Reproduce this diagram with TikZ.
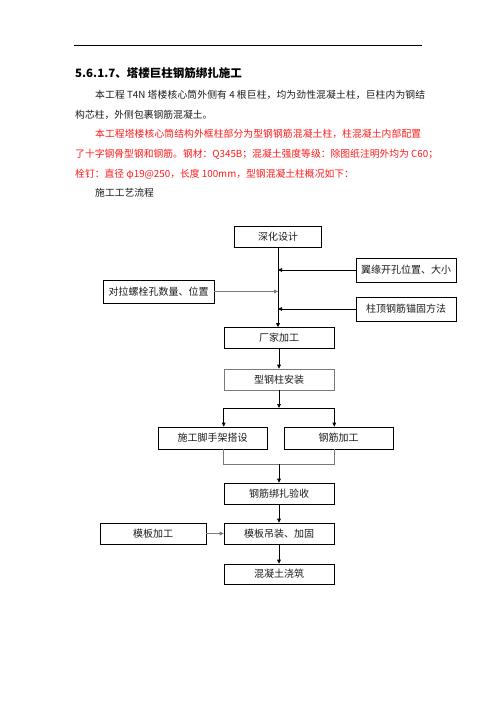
\documentclass[tikz,border=0pt]{standalone}
\usepackage{fontspec}
\usepackage{xcolor}
\usepackage{tikz}
\usetikzlibrary{arrows.meta, positioning, calc}
\newfontfamily\cjk{Noto Sans CJK SC}
\XeTeXlinebreaklocale "zh"
\XeTeXlinebreakskip=0pt plus 3pt
\definecolor{RedText}{HTML}{FF1A1A}
\definecolor{TextDark}{HTML}{1C1C1C}
\definecolor{BoxGray}{HTML}{7A7A7A}

\begin{document}
\begin{tikzpicture}[
    x=1pt, y=-1pt,
    headtext/.style={anchor=west, inner sep=0pt, font=\cjk\bfseries\fontsize{11.5}{14}\selectfont},
    bodytext/.style={anchor=west, inner sep=0pt, text=TextDark, font=\cjk\fontsize{9.8}{12}\selectfont},
    redtext/.style={bodytext, text=RedText},
    fullline/.style={text width=#1, align=justify, execute at begin node={\tolerance=9999 \parfillskip=0pt}},
    procbox/.style={draw=black, fill=white, line width=0.6pt, minimum width=110pt, minimum height=21pt, inner sep=0pt, text=TextDark, font=\cjk\fontsize{10}{12}\selectfont},
    sidebox/.style={procbox, minimum width=100pt, minimum height=24pt},
    arrow/.style={-{Triangle[length=4pt,width=3.6pt]}, line width=0.7pt},
    link/.style={line width=0.7pt}
]
\useasboundingbox (0,0) rectangle (496,702);

% Page header rule and text lines
\draw[line width=0.8pt] (74,45) -- (422,45);
\node[headtext] (H1) at (75,73) {5.6.1.7、塔楼巨柱钢筋绑扎施工};
\node[bodytext, fullline=330pt] (T1) at (95,95) {本工程 T4N 塔楼核心筒外侧有 4 根巨柱，均为劲性混凝土柱，巨柱内为钢结};
\node[bodytext] (T2) at (75,115) {构芯柱，外侧包裹钢筋混凝土。};
\node[redtext, fullline=326pt] (T3) at (95,134) {本工程塔楼核心筒结构外框柱部分为型钢钢筋混凝土柱，柱混凝土内部配置};
\node[redtext] (T4) at (75,154) {了十字钢骨型钢和钢筋。钢材：Q345B；混凝土强度等级：除图纸注明外均为 C60；};
\node[redtext] (T5) at (75,174) {栓钉：直径 φ19@250，长度 100mm，型钢混凝土柱概况如下：};
\node[bodytext] (T6) at (95,193) {施工工艺流程};

% Main process chain
\node[procbox, minimum width=87pt] (P1) at (278,236.5) {深化设计};
\node[procbox] (P2) at (279,338) {厂家加工};
\node[procbox, draw=BoxGray] (P3) at (279,379.5) {型钢柱安装};
\node[procbox, minimum width=109pt, minimum height=22pt] (P4) at (212.5,438) {施工脚手架搭设};
\node[procbox, minimum width=109pt, minimum height=22pt] (P5) at (338.5,438) {钢筋加工};
\node[procbox] (P6) at (279,493.5) {钢筋绑扎验收};
\node[procbox] (P7) at (279,533.5) {模板吊装、加固};
\node[procbox, minimum height=20pt] (P8) at (279,574) {混凝土浇筑};

% Side inputs
\node[sidebox] (A1) at (406,270) {翼缘开孔位置、大小};
\node[sidebox, minimum width=111pt, minimum height=23pt] (A2) at (158.5,291.5) {对拉螺栓孔数量、位置};
\node[sidebox] (A3) at (406,309) {柱顶钢筋锚固方法};
\node[procbox, minimum width=106pt] (A4) at (153,533.5) {模板加工};

% Trunk from design to factory
\draw[arrow] (P1.south) -- (P1.south |- P2.north);
\draw[arrow] (A1.west) -- (A1.west -| P1.south);
\draw[arrow, draw=BoxGray] (A2.east) -- (A2.east -| P1.south);
\draw[arrow] (A3.west) -- (A3.west -| P1.south);
\draw[arrow] (P2) -- (P3);

% Split into scaffold and rebar
\coordinate (J1) at (279,408);
\draw[arrow] (P3) -- (J1);
\draw[link] (P3.south west |- J1) -- (P3.south east |- J1);
\draw[arrow] (P3.south west |- J1) -- (P3.south west |- P4.north);
\draw[arrow] (P3.south east |- J1) -- (P3.south east |- P5.north);

% Merge and finish
\coordinate (J2) at (279,464);
\draw[link, draw=BoxGray] (P3.south west |- P4.south) -- (P3.south west |- J2) -- (P3.south east |- J2) -- (P3.south east |- P5.south);
\draw[arrow] (J2) -- (P6);
\draw[arrow] (P6) -- (P7);
\draw[arrow, draw=BoxGray] (A4) -- (P7);
\draw[arrow] (P7) -- (P8);

\end{tikzpicture}
\end{document}
